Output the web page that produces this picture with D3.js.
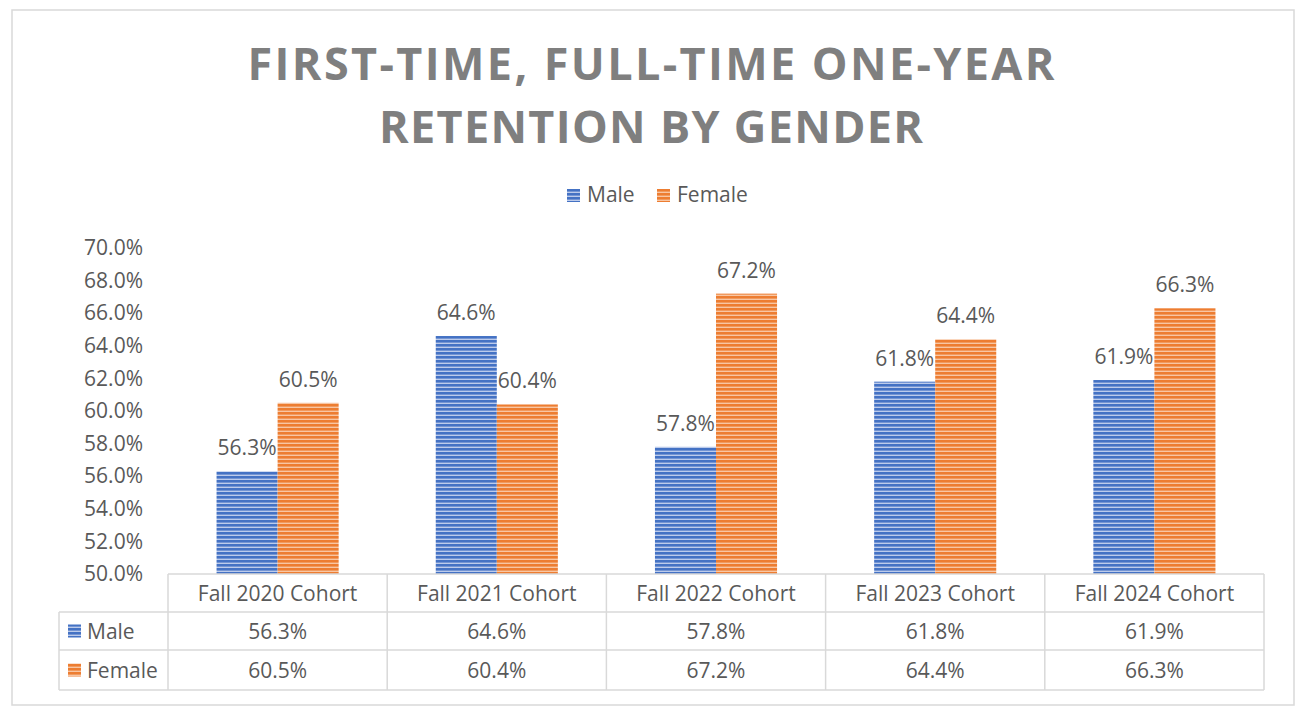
<!DOCTYPE html>
<html>
<head>
<meta charset="utf-8">
<script src="https://cdn.jsdelivr.net/npm/d3@7"></script>
<style>
  body { margin: 0; background: #fff; }
  text { font-family: "Open Sans", sans-serif; }
</style>
</head>
<body>
<svg id="svg"></svg>
<script>
// chart data
const categories = ["Fall 2020 Cohort", "Fall 2021 Cohort", "Fall 2022 Cohort", "Fall 2023 Cohort", "Fall 2024 Cohort"];
const seriesNames = ["Male", "Female"];
const maleValues = [56.3, 64.6, 57.8, 61.8, 61.9];
const femaleValues = [60.5, 60.4, 67.2, 64.4, 66.3];
const yTicks = [50, 52, 54, 56, 58, 60, 62, 64, 66, 68, 70];
const titleLines = ["FIRST-TIME, FULL-TIME ONE-YEAR", "RETENTION BY GENDER"];

const width = 1302;
const height = 714;
const textColor = "#595959";
const gridColor = "#d9d9d9";
const colors = { Male: "#4472c4", Female: "#ed7d31" };
const lightColors = { Male: "#bccbeb", Female: "#f8c6a3" };

let svg = d3.select("#svg").attr("width", width).attr("height", height);

// striped fills
let defs = svg.append("defs");
for (let s of seriesNames) {
    let p = defs.append("pattern")
        .attr("id", "stripe-" + s)
        .attr("patternUnits", "userSpaceOnUse")
        .attr("width", 6)
        .attr("height", 4);
    p.append("rect").attr("width", 6).attr("height", 4).attr("fill", lightColors[s]);
    p.append("rect").attr("width", 6).attr("height", 2.6).attr("fill", colors[s]);
}

// outer border
svg.append("rect")
    .attr("x", 12).attr("y", 10)
    .attr("width", 1282).attr("height", 695)
    .attr("fill", "#fff")
    .attr("stroke", gridColor)
    .attr("stroke-width", 1.5);

// title
const titleWidths = [807, 544];
svg.selectAll(".title")
    .data(titleLines)
    .enter().append("text")
    .attr("class", "title")
    .attr("x", 651)
    .attr("y", (d, i) => 80 + i * 63)
    .attr("text-anchor", "middle")
    .attr("textLength", (d, i) => titleWidths[i])
    .attr("lengthAdjust", "spacing")
    .style("font-size", "45px")
    .style("font-weight", "bold")
    .style("fill", "#7f7f7f")
    .text(d => d);

// legend
const legendX = [567, 657];
let legend = svg.selectAll(".legend")
    .data(seriesNames)
    .enter().append("g")
    .attr("class", "legend")
    .attr("transform", (d, i) => `translate(${legendX[i]},189)`);
legend.append("rect")
    .attr("width", 13).attr("height", 13)
    .attr("fill", d => `url(#stripe-${d})`);
legend.append("text")
    .attr("x", 20).attr("y", 13)
    .style("font-size", "21px")
    .style("fill", textColor)
    .text(d => d);

// scales
const plotLeft = 168, plotRight = 1264, plotBottom = 574, plotTop = 248;

let xScale = d3.scaleBand()
    .domain(categories)
    .range([plotLeft, plotRight]);

let xBars = d3.scaleBand()
    .domain(categories)
    .range([plotLeft, plotRight])
    .paddingInner(0.443)
    .paddingOuter(0.2215);

let xSeries = d3.scaleBand()
    .domain(seriesNames)
    .range([0, xBars.bandwidth()]);

let yScale = d3.scaleLinear()
    .domain([50, 70])
    .range([plotBottom, plotTop]);

// y axis labels
let yAxis = svg.append("g")
    .attr("transform", `translate(143,0)`)
    .call(d3.axisLeft(yScale).tickValues(yTicks).tickSize(0).tickPadding(0)
        .tickFormat(d => d3.format(".1f")(d) + "%"));
yAxis.select(".domain").remove();
yAxis.selectAll("text")
    .style("font-size", "21px")
    .style("font-family", "Open Sans, sans-serif")
    .style("fill", textColor);

// bars
const barData = [];
categories.forEach((c, i) => {
    barData.push({ cat: c, series: "Male", value: maleValues[i] });
    barData.push({ cat: c, series: "Female", value: femaleValues[i] });
});

svg.selectAll(".bar")
    .data(barData)
    .enter().append("rect")
    .attr("class", "bar")
    .attr("x", d => xBars(d.cat) + xSeries(d.series))
    .attr("y", d => yScale(d.value))
    .attr("width", xSeries.bandwidth())
    .attr("height", d => yScale(50) - yScale(d.value))
    .attr("fill", d => `url(#stripe-${d.series})`);

svg.selectAll(".bar-label")
    .data(barData)
    .enter().append("text")
    .attr("class", "bar-label")
    .attr("x", d => xBars(d.cat) + xSeries(d.series) + xSeries.bandwidth() / 2)
    .attr("y", d => yScale(d.value) - 16)
    .attr("text-anchor", "middle")
    .style("font-size", "21px")
    .style("fill", textColor)
    .text(d => d.value.toFixed(1) + "%");

// data table
const rowTops = [574, 612, 650, 690];
const tableLeft = 59;
let table = svg.append("g").attr("stroke", gridColor).attr("stroke-width", 1.5);

// horizontal lines
table.append("line").attr("x1", plotLeft).attr("x2", plotRight).attr("y1", rowTops[0]).attr("y2", rowTops[0]);
for (let k = 1; k < rowTops.length; k++) {
    table.append("line").attr("x1", tableLeft).attr("x2", plotRight).attr("y1", rowTops[k]).attr("y2", rowTops[k]);
}
// vertical lines
table.append("line").attr("x1", tableLeft).attr("x2", tableLeft).attr("y1", rowTops[1]).attr("y2", rowTops[3]);
categories.forEach(c => {
    table.append("line").attr("x1", xScale(c)).attr("x2", xScale(c)).attr("y1", rowTops[0]).attr("y2", rowTops[3]);
});
table.append("line").attr("x1", plotRight).attr("x2", plotRight).attr("y1", rowTops[0]).attr("y2", rowTops[3]);

// header row
svg.selectAll(".cat-label")
    .data(categories)
    .enter().append("text")
    .attr("class", "cat-label")
    .attr("x", d => xScale(d) + xScale.bandwidth() / 2)
    .attr("y", (rowTops[0] + rowTops[1]) / 2 + 7.5)
    .attr("text-anchor", "middle")
    .style("font-size", "21px")
    .style("fill", textColor)
    .text(d => d);

// value rows
const rowValues = [maleValues, femaleValues];
seriesNames.forEach((s, r) => {
    let yMid = (rowTops[r + 1] + rowTops[r + 2]) / 2;
    svg.append("rect")
        .attr("x", 68).attr("y", yMid - 6.5)
        .attr("width", 13).attr("height", 13)
        .attr("fill", `url(#stripe-${s})`);
    svg.append("text")
        .attr("x", 87).attr("y", yMid + 7.5)
        .style("font-size", "21px")
        .style("fill", textColor)
        .text(s);
    svg.selectAll(".val-" + s)
        .data(rowValues[r])
        .enter().append("text")
        .attr("class", "val-" + s)
        .attr("x", (d, i) => xScale(categories[i]) + xScale.bandwidth() / 2)
        .attr("y", yMid + 7.5)
        .attr("text-anchor", "middle")
        .style("font-size", "21px")
        .style("fill", textColor)
        .text(d => d.toFixed(1) + "%");
});
</script>
</body>
</html>
